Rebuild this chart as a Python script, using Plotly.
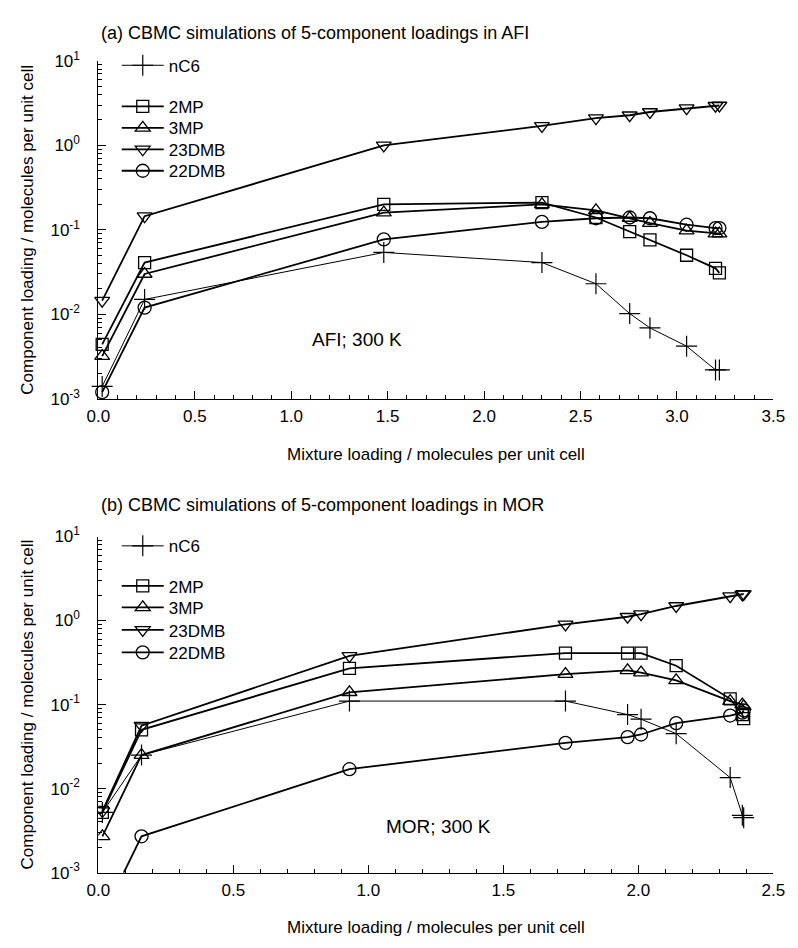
import plotly.graph_objects as go

# ---------------- data ----------------
species = ["nC6", "2MP", "3MP", "23DMB", "22DMB"]

x_afi = [0.02, 0.24, 1.48, 2.30, 2.58, 2.755, 2.86, 3.05, 3.20, 3.22]
afi_nC6 = [0.0014, 0.015, 0.054, 0.041, 0.023, 0.0102, 0.0069, 0.0042, 0.0022, 0.0022]
afi_2MP = [0.0044, 0.041, 0.20, 0.21, 0.14, 0.095, 0.076, 0.050, 0.035, 0.031]
afi_3MP = [0.0032, 0.030, 0.16, 0.20, 0.17, 0.138, 0.12, 0.098, 0.090, 0.090]
afi_23DMB = [0.0145, 0.145, 1.0, 1.7, 2.1, 2.27, 2.48, 2.75, 2.94, 2.96]
afi_22DMB = [0.0012, 0.012, 0.077, 0.124, 0.137, 0.14, 0.137, 0.115, 0.105, 0.105]

x_mor = [0.015, 0.16, 0.93, 1.73, 1.96, 2.01, 2.14, 2.34, 2.385, 2.39]
mor_nC6 = [0.0052, 0.025, 0.11, 0.11, 0.076, 0.067, 0.045, 0.0135, 0.0048, 0.0045]
mor_2MP = [0.0052, 0.050, 0.27, 0.41, 0.41, 0.41, 0.29, 0.117, 0.076, 0.068]
mor_3MP = [0.0027, 0.025, 0.14, 0.23, 0.255, 0.24, 0.194, 0.11, 0.100, 0.095]
mor_23DMB = [0.0054, 0.056, 0.38, 0.90, 1.11, 1.19, 1.49, 1.95, 2.05, 2.07]
mor_22DMB = [0.0003, 0.0027, 0.017, 0.035, 0.041, 0.044, 0.060, 0.074, 0.080, 0.085]

y_tickvals = [1e-3, 1e-2, 1e-1, 1, 10]
y_ticktext = ["10<sup>-3</sup>", "10<sup>-2</sup>", "10<sup>-1</sup>", "10<sup>0</sup>", "10<sup>1</sup>"]

title_a = "(a) CBMC simulations of 5-component loadings in AFI"
title_b = "(b) CBMC simulations of 5-component loadings in MOR"
x_title = "Mixture loading / molecules per unit cell"
y_title = "Component loading / molecules per unit cell"

# ---------------- styles ----------------
FONT = "Liberation Sans, Arial, Helvetica, sans-serif"
sym = {"nC6": "cross-thin", "2MP": "square-open", "3MP": "triangle-up-open",
       "23DMB": "triangle-down-open", "22DMB": "circle-open"}
msize = {"nC6": 15, "2MP": 12, "3MP": 13, "23DMB": 13, "22DMB": 13}
lw = {"nC6": 1.0, "2MP": 1.8, "3MP": 1.8, "23DMB": 1.8, "22DMB": 1.8}

# legend row centres (px from top) for each panel
leg_rows_a = [55, 97, 119, 141, 163]
leg_rows_b = [547, 588, 610, 633, 656]

afi = dict(zip(species, [afi_nC6, afi_2MP, afi_3MP, afi_23DMB, afi_22DMB]))
mor = dict(zip(species, [mor_nC6, mor_2MP, mor_3MP, mor_23DMB, mor_22DMB]))

fig = go.Figure()
legends = {}
leg_idx = 0
for panel, xs, data, xa, ya, clip, rows in [
    ("a", x_afi, afi, "x", "y", False, leg_rows_a),
    ("b", x_mor, mor, "x2", "y2", True, leg_rows_b),
]:
    for i, s in enumerate(species):
        leg_idx += 1
        lname = "legend" if leg_idx == 1 else f"legend{leg_idx}"
        legends[lname] = dict(
            x=108 / 798, y=1 - rows[i] / 948, xanchor="left", yanchor="middle",
            bgcolor="rgba(0,0,0,0)", itemwidth=42,
            font=dict(family=FONT, size=17, color="black"))
        fig.add_trace(go.Scatter(
            x=xs, y=data[s], name=s, mode="lines+markers",
            xaxis=xa, yaxis=ya, legend=lname, cliponaxis=clip,
            line=dict(color="black", width=lw[s]),
            marker=dict(symbol=sym[s], size=msize[s], color="black",
                        line=dict(color="black", width=1.3 if s != "nC6" else 1.2)),
        ))

xdom = [89 / 798, 785 / 798]
ydom_a = [1 - 396 / 948, 1 - 50 / 948]
ydom_b = [1 - 881 / 948, 1 - 537 / 948]

minor_vals = [m * 10 ** e for e in range(-3, 1) for m in range(2, 10)]

def xaxis(rng, dom, anchor):
    return dict(domain=dom, anchor=anchor, range=rng, dtick=0.5, tick0=0,
                tickformat=".1f", ticks="inside", ticklen=8, tickwidth=1,
                tickcolor="black", showline=True, linecolor="black", linewidth=1,
                showgrid=False, zeroline=False, ticklabelstandoff=2,
                minor=dict(dtick=0.1, ticks="inside", ticklen=4, tickcolor="black",
                           showgrid=False),
                tickfont=dict(family=FONT, size=17, color="black"),
                title=dict(text=x_title, standoff=22,
                           font=dict(family=FONT, size=17, color="black")))

def yaxis(dom, anchor):
    return dict(domain=dom, anchor=anchor, type="log", range=[-3, 1],
                tickvals=y_tickvals, ticktext=y_ticktext, ticks="inside",
                ticklen=8, tickwidth=1, tickcolor="black", showline=True,
                linecolor="black", linewidth=1, showgrid=False, zeroline=False,
                ticklabelstandoff=14,
                minor=dict(tickvals=minor_vals, ticks="inside", ticklen=4,
                           tickcolor="black", showgrid=False),
                tickfont=dict(family=FONT, size=17, color="black"),
                title=dict(text=y_title, standoff=12,
                           font=dict(family=FONT, size=17, color="black")))

fig.update_layout(
    width=798, height=948,
    margin=dict(l=0, r=0, t=0, b=0),
    paper_bgcolor="white", plot_bgcolor="white",
    font=dict(family=FONT, color="black"),
    xaxis=xaxis([0, 3.5], xdom, "y"),
    yaxis=yaxis(ydom_a, "x"),
    xaxis2=xaxis([0, 2.5], xdom, "y2"),
    yaxis2=yaxis(ydom_b, "x2"),
    showlegend=True,
    annotations=[
        dict(text=title_a, xref="paper", yref="paper", x=90 / 798, y=1 - 22 / 948,
             xanchor="left", yanchor="middle", showarrow=False,
             font=dict(family=FONT, size=18, color="black")),
        dict(text=title_b, xref="paper", yref="paper", x=90 / 798, y=1 - 505 / 948,
             xanchor="left", yanchor="middle", showarrow=False,
             font=dict(family=FONT, size=18, color="black")),
        dict(text="AFI; 300 K", xref="x", yref="y", x=1.34, y=-2.3,
             xanchor="center", yanchor="middle", showarrow=False,
             font=dict(family=FONT, size=19, color="black")),
        dict(text="MOR; 300 K", xref="x2", yref="y2", x=1.26, y=-2.45,
             xanchor="center", yanchor="middle", showarrow=False,
             font=dict(family=FONT, size=19, color="black")),
    ],
)
fig.update_layout(**legends)

fig.write_html("out.html",
               config={"displayModeBar": False},
               post_script="document.body.style.margin='0';"
                           "document.body.style.overflow='hidden';")
